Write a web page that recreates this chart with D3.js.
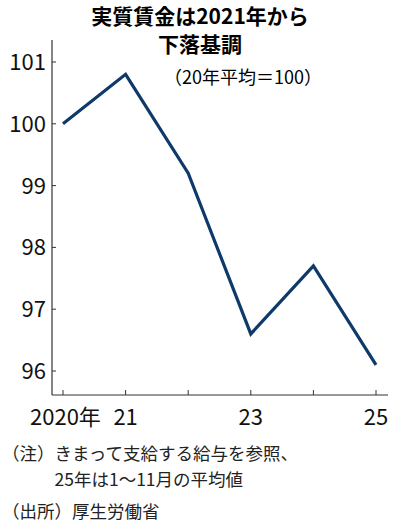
<!DOCTYPE html>
<html><head><meta charset="utf-8">
<script src="https://cdn.jsdelivr.net/npm/d3@7"></script>
<style>body{margin:0;background:#fff}svg{display:block}text{font-family:"Noto Sans CJK JP","Noto Sans",sans-serif}</style>
</head><body><svg id="c" width="400" height="532"></svg>
<script>
const years=[2020,2021,2022,2023,2024,2025];
const values=[100,100.8,99.2,96.6,97.7,96.1];
const xLabels={2020:"2020年",2021:"21",2023:"23",2025:"25"};
const yTicks=[96,97,98,99,100,101];
const svg=d3.select("#c");
const x=d3.scaleLinear().domain([2020,2025]).range([63,376]);
const y=d3.scaleLinear().domain([96,101]).range([371,62]);
const L=52,B=395;
svg.append("text").attr("x",200).attr("y",24).attr("text-anchor","middle").attr("font-size",21).attr("font-weight","bold").text("実質賃金は2021年から");
svg.append("text").attr("x",200).attr("y",52).attr("text-anchor","middle").attr("font-size",21).attr("font-weight","bold").text("下落基調");
svg.append("text").attr("x",243).attr("y",84).attr("text-anchor","middle").attr("font-size",18).text("（20年平均＝100）");
svg.append("line").attr("x1",L).attr("x2",L).attr("y1",40).attr("y2",B).attr("stroke","#333").attr("stroke-width",1.2);
svg.append("line").attr("x1",L).attr("x2",388).attr("y1",B).attr("y2",B).attr("stroke","#333").attr("stroke-width",1.2);
yTicks.forEach(t=>{
 svg.append("line").attr("x1",L).attr("x2",L+4).attr("y1",y(t)).attr("y2",y(t)).attr("stroke","#333");
 svg.append("text").attr("x",L-6).attr("y",y(t)+8).attr("text-anchor","end").attr("font-size",22).attr("fill","#111").text(t);
});
years.forEach(t=>{
 svg.append("line").attr("x1",x(t)).attr("x2",x(t)).attr("y1",B).attr("y2",B-5).attr("stroke","#333");
 if(xLabels[t]){
  const tx=svg.append("text").attr("x",x(t)).attr("y",B+30).attr("text-anchor",t===2020?"start":"middle").attr("font-size",22).attr("fill","#111").text(xLabels[t]);
  if(t===2020) tx.attr("x",x(t)-33);
 }
});
svg.append("path").datum(years.map((d,i)=>[d,values[i]])).attr("fill","none").attr("stroke","#0d3a6b").attr("stroke-width",3.2).attr("stroke-linejoin","miter")
 .attr("d",d3.line().x(d=>x(d[0])).y(d=>y(d[1])));
const notes=[["（注）きまって支給する給与を参照、",460],["　　　25年は1～11月の平均値",486],["（出所）厚生労働省",518]];
notes.forEach(n=>svg.append("text").attr("x",2).attr("y",n[1]).attr("font-size",17.5).attr("fill","#222").text(n[0]));
</script></body></html>
